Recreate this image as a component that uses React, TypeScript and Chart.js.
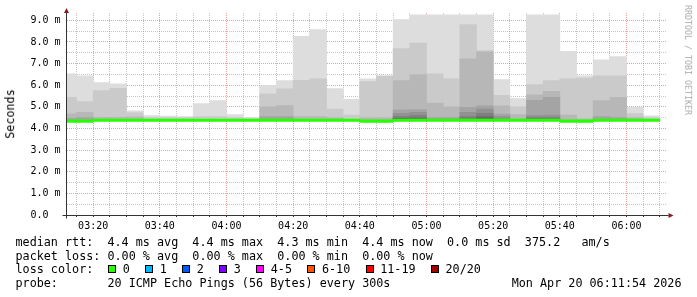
import React, { useEffect, useRef } from 'react';
import { Chart, registerables } from 'chart.js';

Chart.register(...registerables);

const N = null;

// start of each 5-minute step, minutes after 03:00
const barStartMin = [10, 15, 20, 25, 30, 35, 40, 45, 50, 55, 60, 65, 70, 75, 80, 85, 90, 95, 100, 105, 110, 115, 120, 125, 130, 135, 140, 145, 150, 155, 160, 165, 170, 175, 180, 185];

// median rtt in ms
const medianRtt = [4.34, 4.34, 4.38, 4.38, 4.38, 4.38, 4.38, 4.38, 4.38, 4.38, 4.38, 4.38, 4.38, 4.38, 4.38, 4.38, 4.38, 4.38, 4.34, 4.34, 4.38, 4.38, 4.38, 4.38, 4.38, 4.38, 4.38, 4.38, 4.38, 4.38, 4.34, 4.34, 4.38, 4.38, 4.38, 4.38];

// upper edges of the smoke bands (ms), outermost (max) first
const smoke1 = [6.53, 6.44, 6.12, 6.07, 4.82, 4.60, 4.57, 4.55, 5.15, 5.29, 4.64, 4.52, 5.98, 6.21, 8.26, 8.57, 5.84, 5.35, 6.30, 6.44, 9.03, 9.26, 9.26, 9.26, 9.26, 9.26, 6.26, 5.38, 9.26, 9.26, 7.57, 6.44, 7.18, 7.32, 4.98, 4.59];
const smoke2 = [5.44, 5.24, 5.75, 5.86, 4.72, 4.50, 4.50, 4.50, 4.55, 4.55, 4.50, 4.45, 5.60, 5.83, 6.23, 6.30, 4.90, 4.62, 6.17, 6.42, 7.69, 7.95, 6.53, 6.30, 8.80, 7.60, 5.53, 5.00, 6.03, 6.21, 6.30, 6.33, 6.44, 6.44, 4.69, 4.50];
const smoke3 = [4.68, 4.75, 4.52, 4.52, 4.54, N, N, N, N, N, N, N, 5.00, 5.06, 4.55, 4.55, 4.50, N, 4.50, 4.50, 6.21, 6.49, 5.18, 5.00, 7.22, 7.55, 5.05, 4.64, 5.56, 5.72, 4.62, 4.45, 5.29, 5.44, 4.50, N];
const smoke4 = [4.47, 4.50, N, N, N, N, N, N, N, N, N, N, 4.55, 4.55, N, N, N, N, N, N, 4.86, 4.87, 4.50, 4.50, 4.98, 5.05, 4.67, N, 5.30, 5.44, N, N, 4.55, 4.50, N, N];
const smoke5 = [N, N, N, N, N, N, N, N, N, N, N, N, N, N, N, N, N, N, N, N, 4.70, 4.75, N, N, 4.75, 4.90, 4.55, N, 4.60, 4.62, N, N, N, N, N, N];
const smoke6 = [N, N, N, N, N, N, N, N, N, N, N, N, N, N, N, N, N, N, N, N, 4.55, 4.60, N, N, 4.55, 4.70, N, N, 4.50, 4.50, N, N, N, N, N, N];
const smoke7 = [N, N, N, N, N, N, N, N, N, N, N, N, N, N, N, N, N, N, N, N, 4.47, 4.48, N, N, N, 4.55, N, N, N, N, N, N, N, N, N, N];

const smokeColors = ['#dddddd', '#cacaca', '#b7b7b7', '#a4a4a4', '#919191', '#7e7e7e', '#6b6b6b'];

// axis ticks
const xLabelMin = [20, 40, 60, 80, 100, 120, 140, 160, 180];
const xLabels = ['03:20', '03:40', '04:00', '04:20', '04:40', '05:00', '05:20', '05:40', '06:00'];
const yLabelVal = [0, 1, 2, 3, 4, 5, 6, 7, 8, 9];
const yLabels = ['0.0  ', '1.0 m', '2.0 m', '3.0 m', '4.0 m', '5.0 m', '6.0 m', '7.0 m', '8.0 m', '9.0 m'];

const legendRtt = 'median rtt:  4.4 ms avg  4.4 ms max  4.3 ms min  4.4 ms now  0.0 ms sd  375.2   am/s';
const legendLoss = 'packet loss: 0.00 % avg  0.00 % max  0.00 % min  0.00 % now';
const lossLabels = ['0', '1', '2', '3', '4-5', '6-10', '11-19', '20/20'];
const lossColors = ['#26ff00', '#00b8ff', '#0059ff', '#7e00ff', '#ff00ff', '#ff5500', '#ff0000', '#a10000'];
const probeText = 'probe:       20 ICMP Echo Pings (56 Bytes) every 300s';
const dateText = 'Mon Apr 20 06:11:54 2026';

const MONO = "'DejaVu Sans Mono', monospace";
const MAJOR = 'rgba(222,80,80,0.55)';
const MINOR = 'rgba(140,140,140,0.5)';

const xGridMin: number[] = [];
for (let m = 15; m <= 190; m += 5) xGridMin.push(m);
const yGridVal: number[] = [];
for (let v = 0; v <= 9; v += 0.5) yGridVal.push(v);

const axisPlugin = {
  id: 'rrdAxes',
  afterDraw(chart: any) {
    const { ctx, chartArea: a } = chart;
    ctx.save();
    ctx.strokeStyle = '#333';
    ctx.lineWidth = 1;
    const yb = Math.round(a.bottom) + 0.5;
    const xl = Math.floor(a.left) + 0.5;
    ctx.beginPath();
    ctx.moveTo(xl - 4, yb);
    ctx.lineTo(a.right + 2, yb);
    ctx.moveTo(xl, yb + 3);
    ctx.lineTo(xl, a.top);
    ctx.stroke();
    ctx.fillStyle = '#7f1f1f';
    ctx.beginPath();
    ctx.moveTo(a.right + 7, yb);
    ctx.lineTo(a.right + 2, yb - 2.5);
    ctx.lineTo(a.right + 2, yb + 2.5);
    ctx.closePath();
    ctx.fill();
    ctx.beginPath();
    ctx.moveTo(xl, a.top - 5);
    ctx.lineTo(xl - 2.5, a.top);
    ctx.lineTo(xl + 2.5, a.top);
    ctx.closePath();
    ctx.fill();
    ctx.restore();
  },
};

export default function App() {
  const ref = useRef<HTMLCanvasElement>(null);

  useEffect(() => {
    const canvas = ref.current;
    if (!canvas) return;
    const centers = barStartMin.map((s) => s + 2.5);
    const bands = [smoke1, smoke2, smoke3, smoke4, smoke5, smoke6, smoke7];
    const common = { grouped: false, barPercentage: 1, categoryPercentage: 1, borderWidth: 0 };
    const datasets: any[] = [
      {
        ...common,
        label: 'median',
        data: centers.map((x, i) => ({ x, y: [medianRtt[i] - 0.055, medianRtt[i] + 0.055] })),
        backgroundColor: '#26ff00',
        order: 0,
      },
    ];
    bands.forEach((b, k) => {
      datasets.push({
        ...common,
        label: 'smoke' + (k + 1),
        data: centers
          .map((x, i) => (b[i] == null ? null : { x, y: [medianRtt[i], b[i]] }))
          .filter((p) => p !== null),
        backgroundColor: smokeColors[k],
        order: bands.length - k,
      });
    });

    const chart = new Chart(canvas, {
      type: 'bar',
      data: { datasets },
      options: {
        animation: false,
        responsive: false,
        devicePixelRatio: 1,
        events: [],
        layout: { padding: { left: 0, top: 13, right: 30.5, bottom: 0 } },
        plugins: { legend: { display: false }, tooltip: { enabled: false }, title: { display: false } },
        scales: {
          x: {
            type: 'linear',
            min: 12,
            max: 192,
            bounds: 'data',
            offset: false,
            z: 1,
            afterBuildTicks: (s: any) => {
              s.ticks = xGridMin.map((v) => ({ value: v }));
            },
            afterFit: (s: any) => {
              s.height = 82;
            },
            grid: {
              offset: false,
              color: (c: any) => (c.tick && c.tick.value % 20 === 0 ? MAJOR : MINOR),
              lineWidth: 1,
              drawTicks: true,
              tickLength: 2,
              tickColor: '#333',
              tickWidth: 1,
            },
            border: { display: false, dash: [1, 1] },
            ticks: {
              autoSkip: false,
              maxRotation: 0,
              minRotation: 0,
              padding: 3,
              color: '#000',
              font: { family: MONO, size: 10 },
              callback: (v: any) => {
                const i = xLabelMin.indexOf(Number(v));
                return i >= 0 ? xLabels[i] : '';
              },
            },
          },
          y: {
            type: 'linear',
            min: 0,
            max: 9.34,
            bounds: 'data',
            z: 1,
            afterBuildTicks: (s: any) => {
              s.ticks = yGridVal.map((v) => ({ value: v }));
            },
            afterFit: (s: any) => {
              s.width = 66.5;
            },
            grid: {
              color: (c: any) => (c.tick && Number.isInteger(c.tick.value) ? MAJOR : MINOR),
              lineWidth: 1,
              drawTicks: false,
            },
            border: { display: false, dash: [1, 1] },
            ticks: {
              autoSkip: false,
              padding: 6,
              color: '#000',
              font: { family: MONO, size: 10 },
              callback: (v: any) => {
                const i = yLabelVal.indexOf(Number(v));
                return i >= 0 ? yLabels[i] : '';
              },
            },
          },
        },
      } as any,
      plugins: [axisPlugin],
    });
    return () => chart.destroy();
  }, []);

  const fs = 11.76;
  const line = (top: number): React.CSSProperties => ({
    position: 'absolute',
    left: 15.5,
    top,
    fontFamily: MONO,
    fontSize: fs,
    lineHeight: '14px',
    whiteSpace: 'pre',
    color: '#000',
  });

  const boxX: number[] = [];
  let bx = 108.3;
  lossLabels.forEach((l) => {
    boxX.push(bx);
    bx += 37 + 7.08 * (l.length - 1);
  });

  return (
    <div style={{ position: 'absolute', left: 0, top: 0, width: 697, height: 297, overflow: 'hidden', background: '#fff' }}>
      <canvas ref={ref} width={697} height={297} style={{ position: 'absolute', left: 0, top: 0, width: 697, height: 297 }} />
      <div
        style={{
          position: 'absolute',
          left: 11,
          top: 114,
          transform: 'translate(-50%,-50%) rotate(-90deg)',
          fontFamily: MONO,
          fontSize: fs,
          lineHeight: 1,
          whiteSpace: 'nowrap',
          color: '#000',
        }}
      >
        Seconds
      </div>
      <div
        style={{
          position: 'absolute',
          left: 687.5,
          top: 60,
          transform: 'translate(-50%,-50%) rotate(90deg)',
          fontFamily: MONO,
          fontSize: 8.3,
          lineHeight: 1,
          whiteSpace: 'nowrap',
          color: '#aaaaaa',
        }}
      >
        RRDTOOL / TOBI OETIKER
      </div>
      <div style={line(234.9)}>{legendRtt}</div>
      <div style={line(248.5)}>{legendLoss}</div>
      <div style={line(262)}>loss color:</div>
      {lossLabels.map((l, i) => (
        <React.Fragment key={l}>
          <div
            style={{
              position: 'absolute',
              left: boxX[i],
              top: 265.2,
              width: 8,
              height: 8,
              boxSizing: 'border-box',
              border: '1px solid #000',
              background: lossColors[i],
            }}
          />
          <div style={{ ...line(262), left: boxX[i] + 14.5 }}>{l}</div>
        </React.Fragment>
      ))}
      <div style={line(275.6)}>{probeText}</div>
      <div style={{ ...line(275.6), left: undefined, right: 15.5 }}>{dateText}</div>
    </div>
  );
}
